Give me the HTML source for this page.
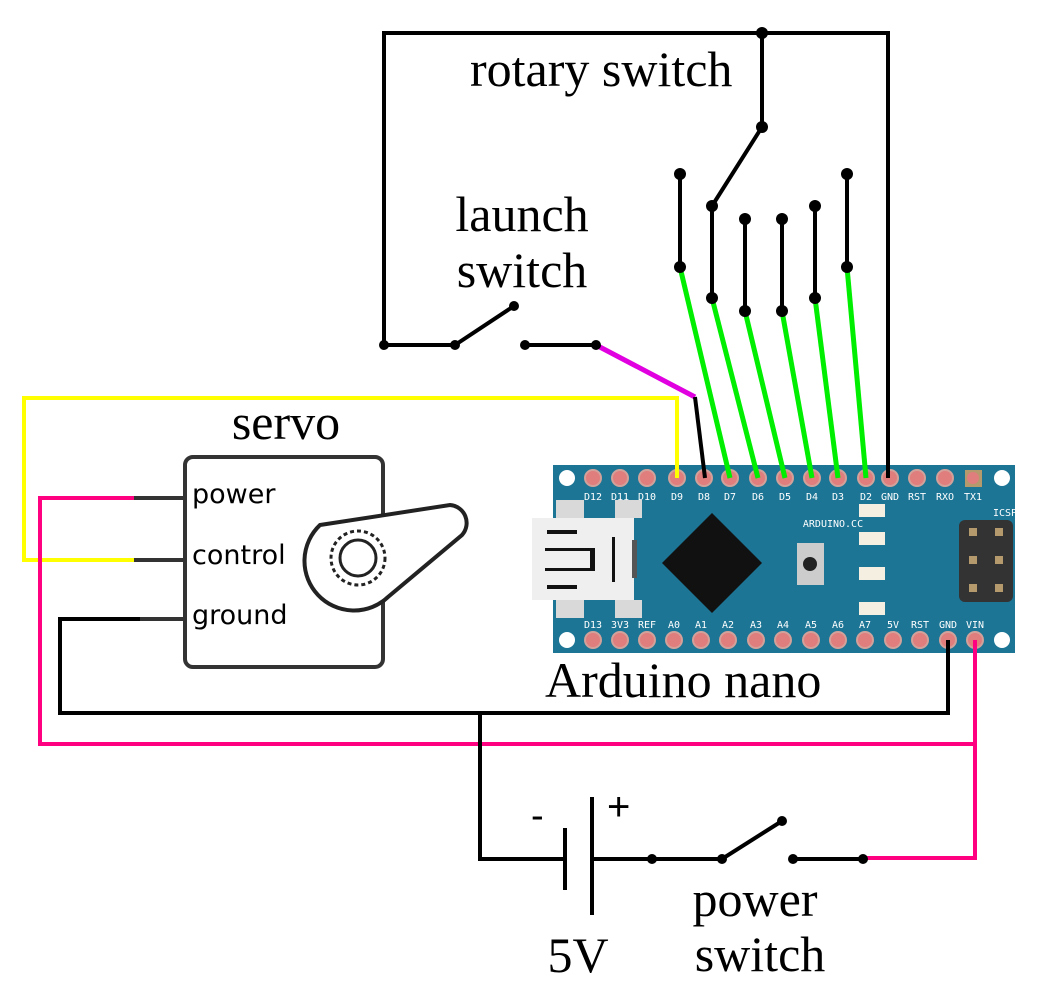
<!DOCTYPE html>
<html><head><meta charset="utf-8"><style>body{margin:0;background:#fff}svg{display:block}</style></head><body>
<svg width="1050" height="1008" viewBox="0 0 1050 1008" xmlns="http://www.w3.org/2000/svg">
<g font-family="Liberation Serif, serif" font-size="50" fill="#000">
<text x="470" y="86">rotary switch</text>
<text x="522" y="231" text-anchor="middle">launch</text>
<text x="522" y="287" text-anchor="middle">switch</text>
<text x="286" y="439" text-anchor="middle">servo</text>
<text x="545" y="697">Arduino nano</text>
<text x="531" y="828" font-family="Liberation Sans, sans-serif" font-size="38">-</text>
<text x="607" y="820" font-family="Liberation Sans, sans-serif" font-size="40">+</text>
<text x="578" y="972" text-anchor="middle">5V</text>
<text x="755" y="916" text-anchor="middle">power</text>
<text x="760" y="971" text-anchor="middle">switch</text>
</g>
<!-- board -->
<rect x="553" y="465" width="462" height="188" fill="#1d7595"/>
<g fill="#fff"><circle cx="567" cy="478" r="8"/><circle cx="1002" cy="478" r="8"/><circle cx="567" cy="640" r="8"/><circle cx="1002" cy="640" r="8"/></g>
<g fill="#e07d7d" stroke="#d2a19a" stroke-width="2">
<circle cx="593" cy="478" r="8"/><circle cx="620" cy="478" r="8"/><circle cx="647" cy="478" r="8"/><circle cx="677" cy="478" r="8"/><circle cx="704" cy="478" r="8"/><circle cx="730" cy="478" r="8"/><circle cx="758" cy="478" r="8"/><circle cx="785" cy="478" r="8"/><circle cx="812" cy="478" r="8"/><circle cx="838" cy="478" r="8"/><circle cx="866" cy="478" r="8"/><circle cx="890" cy="478" r="8"/><circle cx="917" cy="478" r="8"/><circle cx="945" cy="478" r="8"/>
<circle cx="593" cy="640" r="8"/><circle cx="620" cy="640" r="8"/><circle cx="647" cy="640" r="8"/><circle cx="674" cy="640" r="8"/><circle cx="701" cy="640" r="8"/><circle cx="728" cy="640" r="8"/><circle cx="756" cy="640" r="8"/><circle cx="783" cy="640" r="8"/><circle cx="811" cy="640" r="8"/><circle cx="838" cy="640" r="8"/><circle cx="865" cy="640" r="8"/><circle cx="893" cy="640" r="8"/><circle cx="920" cy="640" r="8"/><circle cx="948" cy="640" r="8"/><circle cx="975" cy="640" r="8"/>
</g>
<rect x="965" y="470" width="17" height="17" fill="#b59a6e"/><circle cx="973" cy="478" r="6" fill="#e07d7d"/>
<g font-family="DejaVu Sans Mono, monospace" font-size="10" fill="#fff" text-anchor="middle">
<text x="593" y="500">D12</text><text x="620" y="500">D11</text><text x="647" y="500">D10</text><text x="677" y="500">D9</text><text x="704" y="500">D8</text><text x="730" y="500">D7</text><text x="758" y="500">D6</text><text x="785" y="500">D5</text><text x="812" y="500">D4</text><text x="838" y="500">D3</text><text x="866" y="500">D2</text><text x="890" y="500">GND</text><text x="917" y="500">RST</text><text x="945" y="500">RXO</text><text x="973" y="500">TX1</text>
<text x="593" y="628">D13</text><text x="620" y="628">3V3</text><text x="647" y="628">REF</text><text x="674" y="628">A0</text><text x="701" y="628">A1</text><text x="728" y="628">A2</text><text x="756" y="628">A3</text><text x="783" y="628">A4</text><text x="811" y="628">A5</text><text x="838" y="628">A6</text><text x="865" y="628">A7</text><text x="893" y="628">5V</text><text x="920" y="628">RST</text><text x="948" y="628">GND</text><text x="975" y="628">VIN</text>
<text x="833" y="527">ARDUINO.CC</text><text x="1005" y="516">ICSP</text>
</g>
<g fill="#d9d9d9"><rect x="556" y="500" width="28" height="18"/><rect x="615" y="500" width="27" height="18"/><rect x="556" y="600" width="28" height="18"/><rect x="615" y="600" width="27" height="18"/></g>
<rect x="532" y="518" width="102" height="82" fill="#efefef"/>
<g fill="#111"><rect x="547" y="530" width="30" height="4"/><rect x="547" y="585" width="30" height="4"/><rect x="545" y="548" width="45" height="3"/><rect x="545" y="568" width="45" height="3"/><rect x="612" y="537" width="3" height="45"/><rect x="590" y="548" width="5" height="23"/><rect x="632" y="540" width="5" height="38" fill="#555"/></g>
<polygon points="712,513 762,563 712,613 662,563" fill="#111"/>
<rect x="797" y="543" width="27" height="42" fill="#ccc"/><circle cx="810" cy="564" r="7" fill="#222"/>
<g fill="#f4efe0"><rect x="859" y="504" width="26" height="13"/><rect x="859" y="532" width="26" height="13"/><rect x="859" y="567" width="26" height="13"/><rect x="859" y="602" width="26" height="13"/></g>
<rect x="959" y="520" width="54" height="82" rx="6" fill="#333"/>
<g fill="#b59a6e"><rect x="969" y="528" width="8" height="8"/><rect x="995" y="528" width="8" height="8"/><rect x="969" y="556" width="8" height="8"/><rect x="995" y="556" width="8" height="8"/><rect x="969" y="584" width="8" height="8"/><rect x="995" y="584" width="8" height="8"/></g>
<!-- servo -->
<rect x="185" y="457" width="198" height="210" rx="8" fill="#fff" stroke="#333" stroke-width="4"/>
<g font-family="DejaVu Sans, sans-serif" font-size="27" fill="#000"><text x="192" y="503">power</text><text x="192" y="564">control</text><text x="192" y="624">ground</text></g>
<path d="M320,525 L450,505 A18,18 0 0 1 462,535 L388,597 A45,45 0 1 1 320,525 Z" fill="#fff" stroke="#222" stroke-width="4"/>
<circle cx="358" cy="558" r="27" fill="none" stroke="#222" stroke-width="3" stroke-dasharray="4 3"/>
<circle cx="358" cy="558" r="18" fill="none" stroke="#222" stroke-width="3"/>
<!-- wires -->
<g fill="none" stroke-width="4" stroke-linejoin="miter">
<polyline points="134,560 24,560 24,398 677,398 677,478" stroke="#ffff00"/>
<polyline points="134,498 40,498 40,744 975,744 975,640" stroke="#ff0080"/>
<polyline points="975,744 975,858 865,858" stroke="#ff0080"/>
<polyline points="596,345 695,397" stroke="#e000e0" stroke-width="5"/>
<g stroke="#00ee00" stroke-width="5"><line x1="680" y1="267" x2="730" y2="478"/><line x1="712" y1="298" x2="758" y2="478"/><line x1="745" y1="311" x2="785" y2="478"/><line x1="782" y1="311" x2="812" y2="478"/><line x1="815" y1="298" x2="838" y2="478"/><line x1="847" y1="267" x2="866" y2="478"/></g>
<g stroke="#000">
<polyline points="695,397 705,478"/>
<polyline points="185,619 60,619 60,713 948,713 948,640"/>
<polyline points="480,713 480,859 565,859"/>
<line x1="565" y1="828" x2="565" y2="890"/><line x1="592" y1="797" x2="592" y2="915"/>
<polyline points="592,859 722,859 782,821"/>
<line x1="793" y1="859" x2="865" y2="859"/>
<polyline points="384,345 384,33 888,33 888,478"/>
<polyline points="384,345 455,345 514,306"/>
<line x1="525" y1="345" x2="596" y2="345"/>
<polyline points="762,33 762,127 712,206"/>
<line x1="680" y1="174" x2="680" y2="267"/><line x1="712" y1="206" x2="712" y2="298"/><line x1="745" y1="219" x2="745" y2="311"/><line x1="782" y1="219" x2="782" y2="311"/><line x1="815" y1="206" x2="815" y2="298"/><line x1="847" y1="174" x2="847" y2="267"/>
</g>
<g stroke="#333"><line x1="134" y1="498" x2="185" y2="498"/><line x1="134" y1="560" x2="185" y2="560"/><line x1="140" y1="619" x2="185" y2="619"/></g>
</g>
<g fill="#000">
<circle cx="762" cy="33" r="6"/><circle cx="762" cy="127" r="6"/>
<circle cx="680" cy="174" r="6"/><circle cx="712" cy="206" r="6"/><circle cx="745" cy="219" r="6"/><circle cx="782" cy="219" r="6"/><circle cx="815" cy="206" r="6"/><circle cx="847" cy="174" r="6"/>
<circle cx="680" cy="267" r="6"/><circle cx="712" cy="298" r="6"/><circle cx="745" cy="311" r="6"/><circle cx="782" cy="311" r="6"/><circle cx="815" cy="298" r="6"/><circle cx="847" cy="267" r="6"/>
<circle cx="384" cy="345" r="5"/><circle cx="455" cy="345" r="5"/><circle cx="514" cy="306" r="5"/><circle cx="525" cy="345" r="5"/><circle cx="596" cy="345" r="5"/>
<circle cx="652" cy="859" r="5"/><circle cx="722" cy="859" r="5"/><circle cx="782" cy="821" r="5"/><circle cx="793" cy="859" r="5"/><circle cx="863" cy="859" r="5"/>
</g>
</svg>
</body></html>
